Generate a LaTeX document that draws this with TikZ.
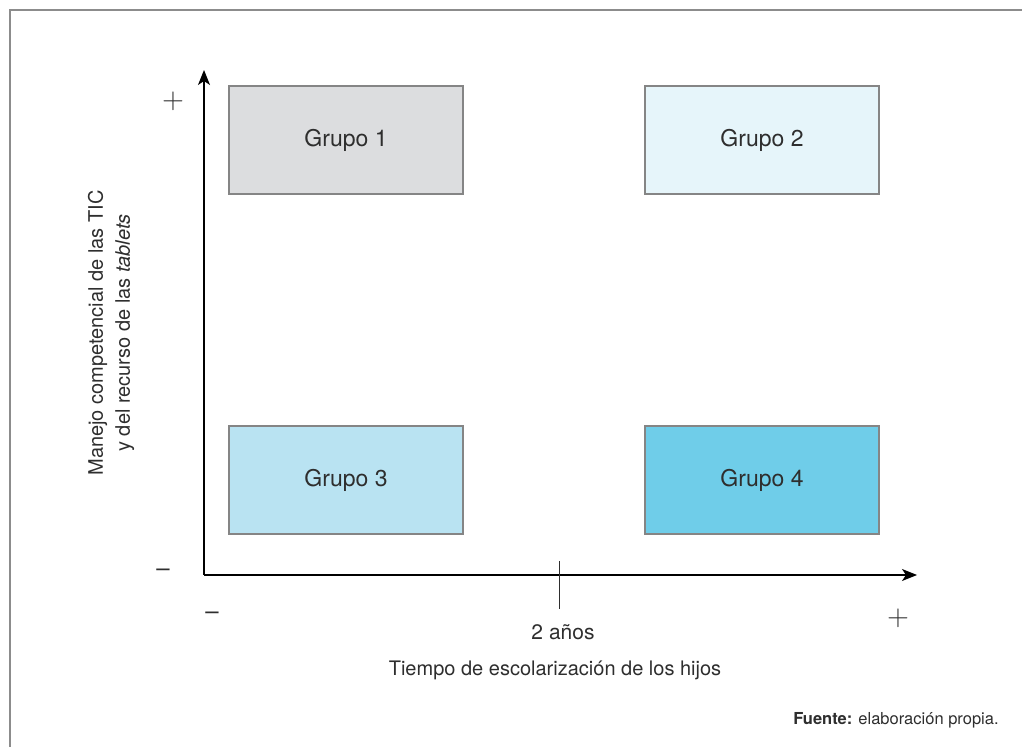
\documentclass[tikz,border=0pt]{standalone}
\usepackage{fontspec}
\setmainfont{TeX Gyre Heros}
\usepackage{xcolor}
\usetikzlibrary{positioning,arrows.meta}
\definecolor{texto}{HTML}{2E2E2E}
\definecolor{marco}{HTML}{8C8C8C}
\definecolor{borde}{HTML}{858585}
\definecolor{gris}{HTML}{DCDDDF}
\definecolor{celeste}{HTML}{E6F5FA}
\definecolor{azulclaro}{HTML}{B9E3F2}
\definecolor{azul}{HTML}{6FCDE9}
\tikzset{
  grupo/.style={draw=borde, line width=0.8pt, minimum width=117pt, minimum height=54pt,
                inner sep=0pt, text=texto, font=\fontsize{11.5}{13}\selectfont},
  eje/.style={line width=0.7pt, -{Stealth[length=7.5pt, width=6pt, inset=2pt]}},
  signo/.style={text=texto, inner sep=0pt, font=\fontsize{12}{12}\selectfont},
  mas/.style={text=texto, inner sep=0pt, font=\fontsize{14}{14}\selectfont},
  rotulo/.style={text=texto, inner sep=0pt, font=\fontsize{10}{13.5}\selectfont}
}
\begin{document}
\begin{tikzpicture}[x=0.5pt, y=-0.5pt]
    \useasboundingbox (0,0) rectangle (1022,747);
    % Marco abierto
    \draw[marco, line width=1pt] (10,747) -- (10,10) -- (1022,10);
    % Ejes
    \coordinate (origen) at (204,575);
    \coordinate (ytop) at (204,70);
    \coordinate (xfin) at (917,575);
    \draw[eje] (origen) -- (ytop);
    \draw[eje] (origen) -- (xfin);
    % Marca de los 2 anos
    \coordinate (marcaA) at (559,561);
    \coordinate (marcaB) at (559,609);
    \draw[line width=0.5pt, texto] (marcaA) -- (marcaB);
    \node[rotulo, font=\fontsize{10.5}{12}\selectfont] (anos) at (563,632) {2 años};
    % Grupos
    \node[grupo, fill=gris] (g1) at (346,140) {Grupo 1};
    \node[grupo, fill=celeste] (g2) at (762,140) {Grupo 2};
    \node[grupo, fill=azulclaro] (g3) at (346,480) {Grupo 3};
    \node[grupo, fill=azul] (g4) at (762,480) {Grupo 4};
    % Signos
    \node[mas] (ymas) at (173,101) {$+$};
    \node[signo] (ymenos) at (163,573) {–};
    \node[signo] (xmenos) at (212,616) {–};
    \node[mas] (xmas) at (898,618) {$+$};
    % Rotulos de los ejes
    \node[rotulo, rotate=90, align=center] (ylab) at (111,333)
        {Manejo competencial de las TIC\\y del recurso de las \textit{tablets}};
    \node[rotulo] (xlab) at (555,670) {Tiempo de escolarización de los hijos};
    % Fuente
    \node[rotulo, anchor=east, font=\fontsize{8.25}{10}\selectfont] (fuente) at (999,720)
        {\textbf{Fuente:} elaboración propia.};
\end{tikzpicture}
\end{document}
